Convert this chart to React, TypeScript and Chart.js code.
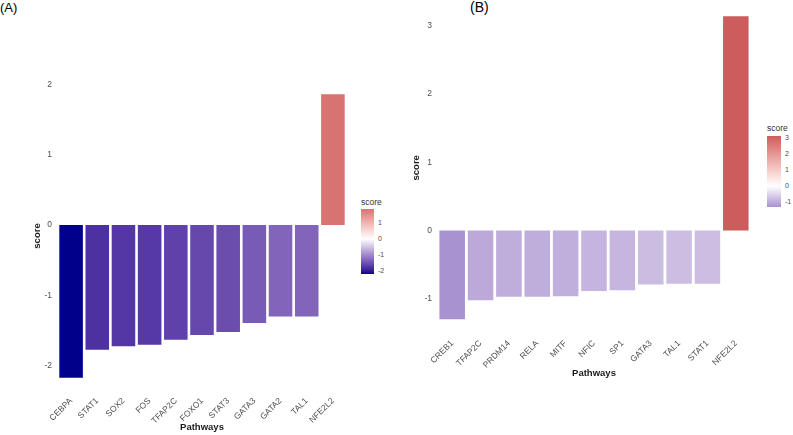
import React, { useEffect, useRef } from "react";
import { Chart, registerables } from "chart.js";
Chart.register(...registerables);

const categoriesA = ["CEBPA", "STAT1", "SOX2", "FOS", "TFAP2C", "FOXO1", "STAT3", "GATA3", "GATA2", "TAL1", "NFE2L2"];
const scoresA = [-2.17, -1.77, -1.72, -1.7, -1.63, -1.56, -1.52, -1.39, -1.3, -1.3, 1.86];
const yTicksA = [-2, -1, 0, 1, 2];
const legendTicksA = [1, 0, -1, -2];

const categoriesB = ["CREB1", "TFAP2C", "PRDM14", "RELA", "MITF", "NFIC", "SP1", "GATA3", "TAL1", "STAT1", "NFE2L2"];
const scoresB = [-1.3, -1.02, -0.97, -0.97, -0.96, -0.885, -0.875, -0.79, -0.78, -0.78, 3.14];
const yTicksB = [-1, 0, 1, 2, 3];
const legendTicksB = [3, 2, 1, 0, -1];

const LOW = "#00008B";
const MID = "#FFFFFF";
const HIGH = "#CD5C5C";
const FONT = "'Liberation Sans', Arial, sans-serif";
const TICK_COLOR = "#4D4D4D";

// ---- Lab colour interpolation (like ggplot's scale_fill_gradient2) ----
function hexToRgb(h: string) {
  const n = parseInt(h.slice(1), 16);
  return [(n >> 16) & 255, (n >> 8) & 255, n & 255];
}
function toLab(hex: string) {
  const [r, g, b] = hexToRgb(hex).map((c) => {
    const v = c / 255;
    return v <= 0.04045 ? v / 12.92 : Math.pow((v + 0.055) / 1.055, 2.4);
  });
  const X = (0.4124564 * r + 0.3575761 * g + 0.1804375 * b) / 0.95047;
  const Y = 0.2126729 * r + 0.7151522 * g + 0.072175 * b;
  const Z = (0.0193339 * r + 0.119192 * g + 0.9503041 * b) / 1.08883;
  const f = (t: number) => (t > 0.008856 ? Math.cbrt(t) : 7.787 * t + 16 / 116);
  const fx = f(X), fy = f(Y), fz = f(Z);
  return [116 * fy - 16, 500 * (fx - fy), 200 * (fy - fz)];
}
function fromLab(L: number, a: number, b: number) {
  const fy = (L + 16) / 116;
  const fx = fy + a / 500;
  const fz = fy - b / 200;
  const inv = (t: number) => (t * t * t > 0.008856 ? t * t * t : (t - 16 / 116) / 7.787);
  const X = inv(fx) * 0.95047, Y = inv(fy), Z = inv(fz) * 1.08883;
  const rl = 3.2404542 * X - 1.5371385 * Y - 0.4985314 * Z;
  const gl = -0.969266 * X + 1.8760108 * Y + 0.041556 * Z;
  const bl = 0.0556434 * X - 0.2040259 * Y + 1.0572252 * Z;
  const c = (v: number) => {
    const s = v <= 0.0031308 ? 12.92 * v : 1.055 * Math.pow(v, 1 / 2.4) - 0.055;
    return Math.round(Math.min(1, Math.max(0, s)) * 255);
  };
  return `rgb(${c(rl)},${c(gl)},${c(bl)})`;
}
const labLow = toLab(LOW), labMid = toLab(MID), labHigh = toLab(HIGH);
function colorFor(v: number, maxAbs: number) {
  const t = 0.5 + v / (2 * maxAbs);
  let A: number[], B: number[], f: number;
  if (t < 0.5) { A = labLow; B = labMid; f = t / 0.5; }
  else { A = labMid; B = labHigh; f = (t - 0.5) / 0.5; }
  return fromLab(A[0] + (B[0] - A[0]) * f, A[1] + (B[1] - A[1]) * f, A[2] + (B[2] - A[2]) * f);
}

type PanelProps = {
  categories: string[];
  scores: number[];
  yTicks: number[];
  left: number; top: number; width: number; height: number;
  yAxisWidth: number; xAxisHeight: number; padTop: number; padRight: number;
  yTitlePad: number; xTitlePad: number;
};

function Panel(p: PanelProps) {
  const ref = useRef<HTMLCanvasElement>(null);
  useEffect(() => {
    if (!ref.current) return;
    const lo = Math.min(0, ...p.scores);
    const hi = Math.max(0, ...p.scores);
    const range = hi - lo;
    const maxAbs = Math.max(Math.abs(lo), Math.abs(hi));
    const chart = new Chart(ref.current, {
      type: "bar",
      data: {
        labels: p.categories,
        datasets: [{
          data: p.scores,
          backgroundColor: p.scores.map((v) => colorFor(v, maxAbs)),
          barPercentage: 0.9,
          categoryPercentage: 1,
          borderWidth: 0,
        }],
      },
      options: {
        animation: false,
        responsive: false,
        devicePixelRatio: 1,
        layout: { padding: { top: p.padTop, right: p.padRight, left: 0, bottom: 0 } },
        plugins: { legend: { display: false }, tooltip: { enabled: false } },
        scales: {
          x: {
            grid: { display: false, drawTicks: false },
            border: { display: false },
            ticks: {
              autoSkip: false, maxRotation: 45, minRotation: 45,
              font: { size: 8.5, family: FONT }, color: TICK_COLOR, padding: 4,
            },
            title: {
              display: true, text: "Pathways", color: "#1A1A1A",
              font: { size: 9.5, weight: "bold", family: FONT },
              padding: { top: 0, bottom: p.xTitlePad },
            },
            afterFit: (s: any) => { s.height = p.xAxisHeight; },
          },
          y: {
            min: lo - 0.05 * range,
            max: hi + 0.05 * range,
            grid: { display: false, drawTicks: false },
            border: { display: false },
            afterBuildTicks: (s: any) => { s.ticks = p.yTicks.map((v) => ({ value: v })); },
            ticks: { font: { size: 8.5, family: FONT }, color: TICK_COLOR, padding: 6 },
            title: {
              display: true, text: "score", color: "#1A1A1A",
              font: { size: 9.5, weight: "bold", family: FONT },
              padding: { top: p.yTitlePad, bottom: 0 },
            },
            afterFit: (s: any) => { s.width = p.yAxisWidth; },
          },
        },
      } as any,
    });
    return () => chart.destroy();
  }, []);
  return (
    <canvas
      ref={ref}
      width={p.width}
      height={p.height}
      style={{ position: "absolute", left: p.left, top: p.top, width: p.width, height: p.height }}
    />
  );
}

type LegendProps = { scores: number[]; ticks: number[]; left: number; top: number; barW: number; barH: number; titleTop: number };
function ColorLegend(l: LegendProps) {
  const lo = Math.min(...l.scores);
  const hi = Math.max(...l.scores);
  const maxAbs = Math.max(Math.abs(lo), Math.abs(hi));
  const stops: string[] = [];
  const N = 40;
  for (let i = 0; i <= N; i++) {
    const v = hi - ((hi - lo) * i) / N;
    stops.push(`${colorFor(v, maxAbs)} ${((i / N) * 100).toFixed(1)}%`);
  }
  return (
    <>
      <div style={{ position: "absolute", left: l.left, top: l.titleTop, fontFamily: FONT, fontSize: 8.5, color: "#333", lineHeight: "10px" }}>score</div>
      <div style={{ position: "absolute", left: l.left, top: l.top, width: l.barW, height: l.barH, background: `linear-gradient(to bottom, ${stops.join(",")})` }} />
      {l.ticks.map((t) => (
        <div key={t} style={{
          position: "absolute", left: l.left + l.barW + 4, top: l.top + ((hi - t) / (hi - lo)) * l.barH - 4,
          fontFamily: FONT, fontSize: 7, color: TICK_COLOR, lineHeight: "8px",
        }}>{t}</div>
      ))}
    </>
  );
}

export default function App() {
  return (
    <div style={{ position: "absolute", left: 0, top: 0, width: 793, height: 435, overflow: "hidden", background: "#fff" }}>
      <div style={{ position: "absolute", left: 0, top: 0, fontFamily: FONT, fontSize: 13, color: "#000", lineHeight: "15px" }}>(A)</div>
      <div style={{ position: "absolute", left: 470, top: -1, fontFamily: FONT, fontSize: 14, color: "#000", lineHeight: "16px" }}>(B)</div>
      <Panel
        categories={categoriesA} scores={scoresA} yTicks={yTicksA}
        left={0} top={0} width={352} height={435}
        yAxisWidth={58} xAxisHeight={43} padTop={80} padRight={6}
        yTitlePad={32} xTitlePad={1.5}
      />
      <ColorLegend scores={scoresA} ticks={legendTicksA} left={361} top={209} barW={13} barH={65} titleTop={197} />
      <Panel
        categories={categoriesB} scores={scoresB} yTicks={yTicksB}
        left={400} top={-10} width={356} height={393}
        yAxisWidth={38} xAxisHeight={48.5} padTop={6} padRight={6}
        yTitlePad={10.5} xTitlePad={3.5}
      />
      <ColorLegend scores={scoresB} ticks={legendTicksB} left={767} top={136} barW={14} barH={71} titleTop={123} />
    </div>
  );
}
